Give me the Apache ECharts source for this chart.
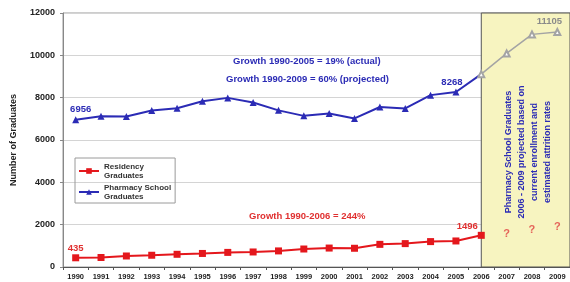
<!DOCTYPE html>
<html>
<head>
<meta charset="utf-8">
<script src="https://cdn.jsdelivr.net/npm/echarts@6/dist/echarts.min.js"></script>
<style>
    html, body { margin: 0; padding: 0; background: #fff; }
    #chart { width: 570px; height: 282px; }
</style>
</head>
<body>
<div id="chart"></div>
<script>
    // 年份
    var years = ['1990', '1991', '1992', '1993', '1994', '1995', '1996', '1997', '1998', '1999',
        '2000', '2001', '2002', '2003', '2004', '2005', '2006', '2007', '2008', '2009']
    // 住院医师毕业人数 1990-2006
    var residency = [435, 450, 520, 555, 600, 640, 690, 710, 760, 850, 895, 885, 1070, 1105, 1200, 1230, 1496]
    // 药学院毕业人数 1990-2006 (实际)
    var pharmacy = [6956, 7120, 7110, 7390, 7500, 7830, 7990, 7770, 7400, 7140, 7250, 7020, 7560, 7490, 8120, 8268, 9110]
    // 2006-2009 预测
    var projected = [9110, 10090, 10990, 11105]
    // 2007-2009 未知 (?)
    var unknown = [1540, 1730, 1880]
    var yTicks = [0, 2000, 4000, 6000, 8000, 10000, 12000]

    var font = '"Liberation Sans", Arial, sans-serif'
    var blue = '#2b2bb5'
    var red = '#e4171c'
    var gray = '#a4a4a4'

    var chart = echarts.init(document.getElementById('chart'))

    var pad = function (arr, start) {
        var out = []
        for (var i = 0; i < years.length; i++) {
            var j = i - start
            out.push(j >= 0 && j < arr.length ? arr[j] : '-')
        }
        return out
    }

    // 药学院实线, 2006 点不画标记
    var pharmData = pharmacy.map(function (v, i) {
        var item = { value: v }
        if (i === pharmacy.length - 1) item.symbol = 'none'
        if (i === 0) item.label = { show: true, position: 'top', distance: 2, offset: [5, 0], formatter: '6956' }
        if (i === 15) item.label = { show: true, position: 'top', distance: 1, offset: [-4, 0], formatter: '8268' }
        return item
    })
    var resData = residency.map(function (v, i) {
        var item = { value: v }
        if (i === 0) item.label = { show: true, position: 'top', distance: 1, formatter: '435' }
        if (i === residency.length - 1) item.label = { show: true, position: 'top', distance: 0, offset: [-14, 0], formatter: '1496' }
        return item
    })
    var projData = pad(projected, 16).map(function (v, i) {
        if (i === years.length - 1) {
            return { value: v, label: { show: true, position: 'top', distance: 2, offset: [-8, 0], formatter: '11105' } }
        }
        return v
    })

    var option = {
        animation: false,
        grid: {
            left: 63,
            top: 13,
            width: 510,
            height: 254,
            show: true,
            borderColor: '#9a9a9a',
            borderWidth: 1
        },
        legend: {
            orient: 'vertical',
            left: 75,
            top: 158,
            borderColor: '#9a9a9a',
            borderWidth: 1,
            padding: [4, 4, 2, 3],
            itemGap: 3,
            itemWidth: 20,
            itemHeight: 7,
            textStyle: {
                fontFamily: font,
                fontWeight: 'bold',
                fontSize: 8,
                lineHeight: 9,
                color: '#333'
            },
            data: ['Residency\nGraduates', 'Pharmacy School\nGraduates']
        },
        xAxis: {
            type: 'category',
            data: years,
            axisLine: { lineStyle: { color: '#555' } },
            axisTick: { show: true, interval: 0, length: 3, lineStyle: { color: '#555' } },
            axisLabel: {
                interval: 0,
                margin: 6,
                fontFamily: font,
                fontWeight: 'bold',
                fontSize: 7.5,
                color: '#222'
            }
        },
        yAxis: {
            type: 'value',
            min: yTicks[0],
            max: yTicks[yTicks.length - 1],
            interval: 2000,
            name: 'Number of Graduates',
            nameLocation: 'middle',
            nameRotate: 90,
            nameGap: 45,
            nameTextStyle: {
                fontFamily: font,
                fontWeight: 'bold',
                fontSize: 9,
                color: '#222'
            },
            axisLine: { show: true, lineStyle: { color: '#888' } },
            axisTick: { show: true, length: 3, lineStyle: { color: '#888' } },
            splitLine: { lineStyle: { color: '#d4d4d4' } },
            axisLabel: {
                margin: 8,
                formatter: function (val) {
                    return String(val)
                },
                fontFamily: font,
                fontWeight: 'bold',
                fontSize: 9,
                color: '#222'
            }
        },
        series: [{
            name: 'Residency\nGraduates',
            type: 'line',
            data: pad(resData, 0),
            symbol: 'rect',
            symbolSize: 7,
            lineStyle: { color: red, width: 2 },
            itemStyle: { color: red },
            label: {
                fontFamily: font,
                fontWeight: 'bold',
                fontSize: 9.5,
                color: '#e03030'
            },
            z: 3
        }, {
            name: 'Pharmacy School\nGraduates',
            type: 'line',
            data: pad(pharmData, 0),
            symbol: 'triangle',
            symbolSize: 7,
            lineStyle: { color: blue, width: 2 },
            itemStyle: { color: blue },
            label: {
                fontFamily: font,
                fontWeight: 'bold',
                fontSize: 9.5,
                color: blue
            },
            markArea: {
                silent: true,
                itemStyle: {
                    color: '#f7f4c0',
                    borderColor: '#555',
                    borderWidth: 1
                },
                data: [[{ xAxis: '2006' }, { yAxis: 12000 }]]
            },
            z: 3
        }, {
            name: 'projected',
            type: 'line',
            data: projData,
            symbol: 'emptyTriangle',
            symbolSize: 6,
            lineStyle: { color: gray, width: 1.5 },
            itemStyle: { color: gray, borderColor: gray },
            label: {
                fontFamily: font,
                fontWeight: 'bold',
                fontSize: 9.5,
                color: '#8a8a8a'
            },
            z: 4
        }, {
            name: 'unknown',
            type: 'scatter',
            data: pad(unknown, 17),
            symbolSize: 0,
            label: {
                show: true,
                position: 'inside',
                formatter: '?',
                fontFamily: font,
                fontWeight: 'bold',
                fontSize: 11,
                color: '#e04040'
            },
            z: 4
        }],
        graphic: [{
            type: 'text',
            left: 233,
            top: 56,
            style: {
                text: 'Growth 1990-2005 = 19% (actual)',
                font: 'bold 9.5px ' + font,
                fill: blue
            }
        }, {
            type: 'text',
            left: 226,
            top: 74,
            style: {
                text: 'Growth 1990-2009 = 60% (projected)',
                font: 'bold 9.5px ' + font,
                fill: blue
            }
        }, {
            type: 'text',
            left: 249,
            top: 211,
            style: {
                text: 'Growth 1990-2006 = 244%',
                font: 'bold 9.5px ' + font,
                fill: '#e03030'
            }
        }, {
            type: 'text',
            x: 528,
            y: 152,
            rotation: Math.PI / 2,
            z: 10,
            style: {
                text: 'Pharmacy School Graduates\n2006 - 2009 projected based on\ncurrent enrollment and\nestimated attrition rates',
                font: 'bold 9px ' + font,
                lineHeight: 13,
                fill: blue,
                align: 'center',
                verticalAlign: 'middle'
            }
        }]
    }

    chart.setOption(option)
</script>
</body>
</html>
